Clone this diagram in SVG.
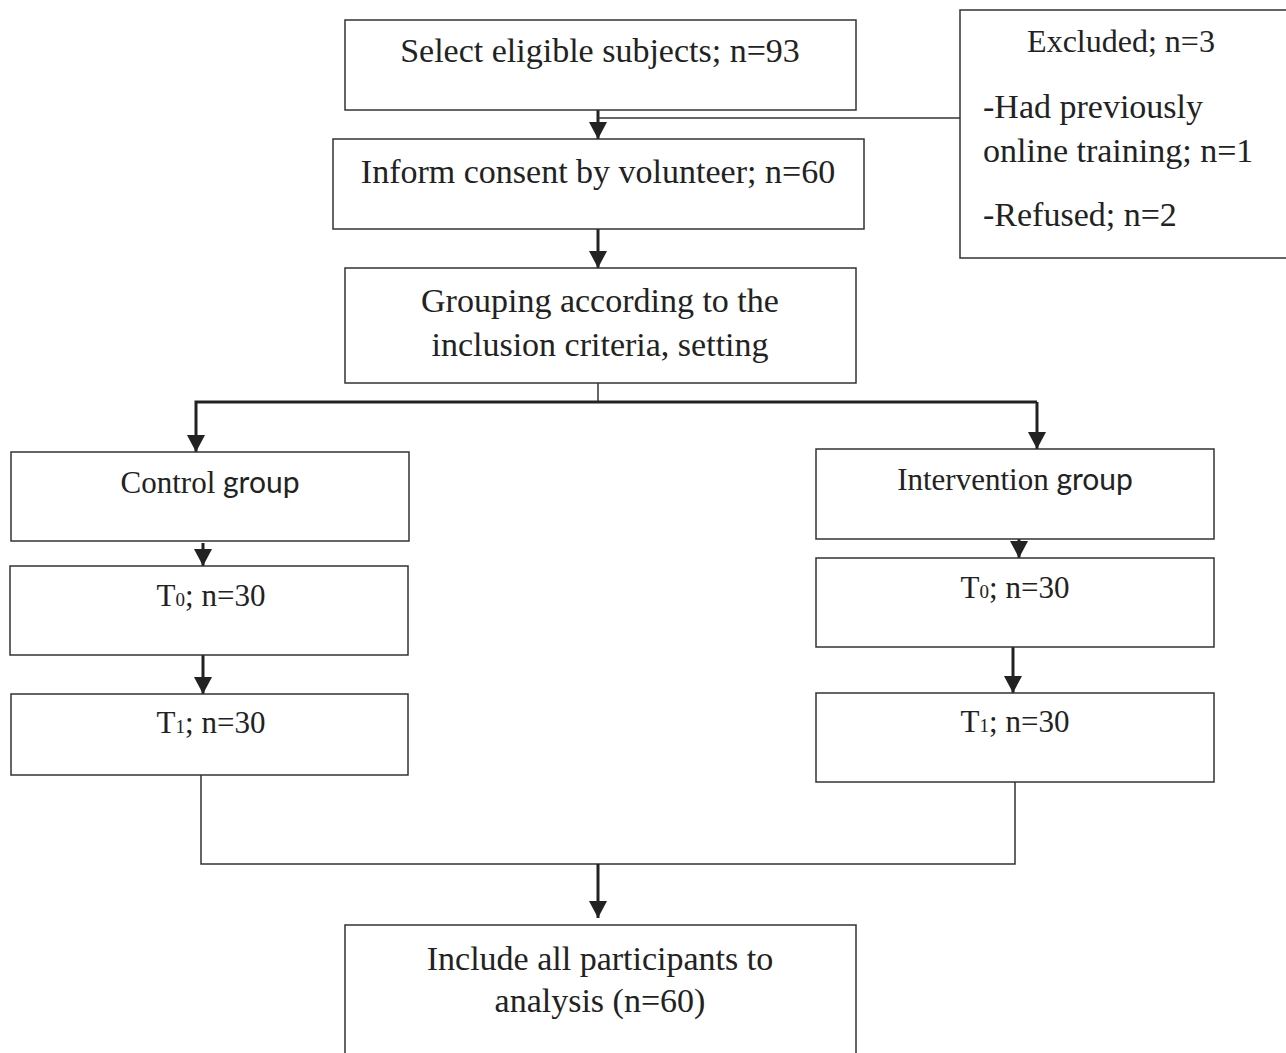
<svg xmlns="http://www.w3.org/2000/svg" width="1286" height="1053" viewBox="0 0 1286 1053">
<style>
.box{fill:#fff;stroke:#333;stroke-width:1.5}
.t{font-family:"Liberation Serif","Times New Roman",serif;font-size:34px;fill:#222;text-anchor:middle}
.tl{font-family:"Liberation Serif","Times New Roman",serif;font-size:34px;fill:#222}
.g{font-size:31px}
.tn{font-size:31px}
.ex{font-size:32px}
.sans{font-family:Lato,"Liberation Sans",sans-serif;font-size:30px}
.sb{font-size:19px}
.thick{fill:none;stroke:#222;stroke-width:3}
.thin{fill:none;stroke:#333;stroke-width:1.5}
</style>
<defs>
<marker id="ah" markerUnits="userSpaceOnUse" markerWidth="17" markerHeight="18" refX="17" refY="9" orient="auto" viewBox="0 0 17 18">
<path d="M0,0 L17,9 L0,18 Z" fill="#222"/>
</marker>
</defs>
<rect width="1286" height="1053" fill="#fff"/>

<g id="connectors">
<path class="thick" d="M598,110 V139" marker-end="url(#ah)"/>
<path class="thin" d="M598,118 H960"/>
<path class="thick" d="M598,229 V268" marker-end="url(#ah)"/>
<path class="thin" d="M598,383 V402"/>
<path class="thick" d="M1037,402 H196 V452" marker-end="url(#ah)"/>
<path class="thick" d="M1037,402 V449" marker-end="url(#ah)"/>
<path class="thick" d="M203,543 V566" marker-end="url(#ah)"/>
<path class="thick" d="M203,655 V694" marker-end="url(#ah)"/>
<path class="thick" d="M1019,532 V558" marker-end="url(#ah)"/>
<path class="thick" d="M1013,647 V693" marker-end="url(#ah)"/>
<path class="thin" d="M201,775 V864 H1015 V778"/>
<path class="thick" d="M598,864 V918" marker-end="url(#ah)"/>
</g>

<g id="select">
<rect class="box" x="345" y="20" width="511" height="90"/>
<text class="t" x="600" y="62">Select eligible subjects; n=93</text>
</g>
<g id="excluded">
<rect class="box" x="960" y="10" width="340" height="248"/>
<text class="t ex" x="1121" y="52">Excluded; n=3</text>
<text class="tl" x="983" y="118">-Had previously</text>
<text class="tl" x="983" y="162">online training; n=1</text>
<text class="tl" x="983" y="226">-Refused; n=2</text>
</g>
<g id="consent">
<rect class="box" x="333" y="139" width="531" height="90"/>
<text class="t" x="598" y="183">Inform consent by volunteer; n=60</text>
</g>
<g id="grouping">
<rect class="box" x="345" y="268" width="511" height="115"/>
<text class="t" x="600" y="312">Grouping according to the</text>
<text class="t" x="600" y="356">inclusion criteria, setting</text>
</g>
<g id="control">
<rect class="box" x="11" y="452" width="398" height="89"/>
<text class="t g" x="210" y="493">Control <tspan class="sans">group</tspan></text>
</g>
<g id="control-t0">
<rect class="box" x="10" y="566" width="398" height="89"/>
<text class="t tn" x="211" y="606">T<tspan class="sb">0</tspan>; n=30</text>
</g>
<g id="control-t1">
<rect class="box" x="11" y="694" width="397" height="81"/>
<text class="t tn" x="211" y="733">T<tspan class="sb">1</tspan>; n=30</text>
</g>
<g id="intervention">
<rect class="box" x="816" y="449" width="398" height="90"/>
<text class="t g" x="1015" y="490">Intervention <tspan class="sans">group</tspan></text>
</g>
<g id="intervention-t0">
<rect class="box" x="816" y="558" width="398" height="89"/>
<text class="t tn" x="1015" y="598">T<tspan class="sb">0</tspan>; n=30</text>
</g>
<g id="intervention-t1">
<rect class="box" x="816" y="693" width="398" height="89"/>
<text class="t tn" x="1015" y="732">T<tspan class="sb">1</tspan>; n=30</text>
</g>
<g id="analysis">
<rect class="box" x="345" y="925" width="511" height="140"/>
<text class="t" x="600" y="970">Include all participants to</text>
<text class="t" x="600" y="1012">analysis (n=60)</text>
</g>
</svg>
